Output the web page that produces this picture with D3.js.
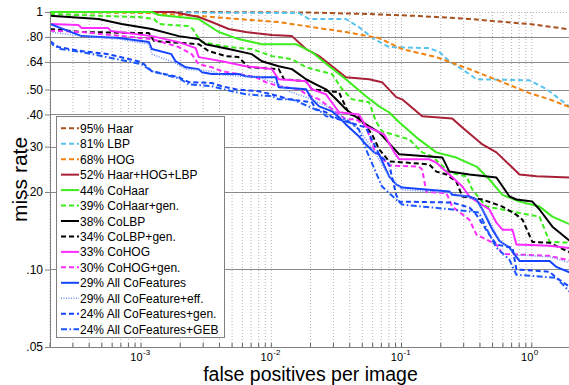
<!DOCTYPE html>
<html><head><meta charset="utf-8">
<script src="https://cdn.jsdelivr.net/npm/d3@7"></script>
<style>
body{margin:0;background:#fff;}
svg{display:block;font-family:Arial,"Liberation Sans",sans-serif;}
</style></head>
<body><svg id="c" width="569" height="385"></svg>
<script>
// ---------- data (false positives per image, miss rate) ----------
const seriesLabels = ["95% Haar","81% LBP","68% HOG","52% Haar+HOG+LBP","44% CoHaar","39% CoHaar+gen.","38% CoLBP","34% CoLBP+gen.","33% CoHOG","30% CoHOG+gen.","29% All CoFeatures","29% All CoFeature+eff.","24% All CoFeatures+gen.","24% All CoFeatures+GEB"];

const haar = [[2e-4,1],[3e-3,1],[0.02,0.995],[0.056,0.982],[0.136,0.965],[0.33,0.94],[0.565,0.918],[0.96,0.898],[2,0.855]];
const lbp = [[2e-4,1],[1.95e-3,0.995],[0.0163,0.991],[0.0195,0.939],[0.0374,0.939],[0.047,0.874],[0.0616,0.785],[0.080,0.731],[0.163,0.724],[0.195,0.699],[0.233,0.644],[0.332,0.574],[0.376,0.548],[0.96,0.543],[1.30,0.501],[2,0.425]];
const hog = [[2e-4,1],[1.15e-3,0.991],[2.77e-3,0.965],[5.6e-3,0.939],[0.0114,0.914],[0.0205,0.874],[0.0374,0.836],[0.0673,0.792],[0.101,0.718],[0.185,0.668],[0.332,0.6],[0.595,0.534],[0.96,0.484],[1.37,0.458],[2,0.425]];
const haarHogLbp = [[2e-4,1],[1.78e-3,1],[2.77e-3,0.956],[3.49e-3,0.914],[4.71e-3,0.859],[6.37e-3,0.836],[0.0101,0.814],[0.0144,0.806],[0.0185,0.718],[0.0233,0.674],[0.0293,0.616],[0.0374,0.558],[0.0563,0.548],[0.0708,0.534],[0.091,0.467],[0.101,0.458],[0.144,0.394],[0.245,0.386],[0.293,0.356],[0.418,0.306],[0.535,0.285],[0.804,0.234],[1.09,0.23],[2,0.2276]];
const coHaar = [[2e-4,1],[1.21e-3,1],[1.37e-3,0.973],[2.77e-3,0.939],[3.95e-3,0.836],[5.6e-3,0.785],[8.47e-3,0.75],[0.0155,0.75],[0.0205,0.699],[0.0278,0.616],[0.0374,0.548],[0.0533,0.471],[0.0673,0.43],[0.080,0.408],[0.096,0.373],[0.136,0.32],[0.185,0.285],[0.263,0.272],[0.376,0.251],[0.473,0.2236],[0.595,0.195],[0.804,0.1835],[1.146,0.1755],[1.44,0.1604],[2,0.149]];
const coHaarGen = [[2e-4,0.982],[4.73e-4,0.967],[9.6e-4,0.956],[1.26e-3,0.939],[1.37e-3,0.898],[2.3e-3,0.882],[2.5e-3,0.859],[2.63e-3,0.821],[2.93e-3,0.764],[4.71e-3,0.731],[7.08e-3,0.718],[0.0101,0.674],[0.0144,0.656],[0.0185,0.61],[0.0293,0.574],[0.035,0.501],[0.0418,0.458],[0.0563,0.446],[0.0637,0.376],[0.0708,0.344],[0.101,0.326],[0.1145,0.32],[0.144,0.285],[0.172,0.275],[0.233,0.238],[0.315,0.23],[0.35,0.204],[0.448,0.1755],[0.595,0.171],[0.96,0.163],[1.146,0.1604],[1.37,0.128],[2,0.127]];
const coLbp = [[2e-4,0.967],[4.73e-4,0.939],[7.1e-4,0.898],[1.21e-3,0.859],[1.95e-3,0.806],[2.77e-3,0.785],[3.13e-3,0.75],[4.71e-3,0.718],[7.08e-3,0.686],[8.47e-3,0.644],[0.0114,0.616],[0.0144,0.6],[0.0185,0.548],[0.022,0.524],[0.0263,0.501],[0.0315,0.458],[0.0374,0.419],[0.0533,0.366],[0.0673,0.341],[0.0847,0.3],[0.096,0.28],[0.206,0.272],[0.233,0.24],[0.332,0.234],[0.535,0.2276],[0.674,0.192],[0.762,0.187],[1.01,0.1835],[1.146,0.171],[1.44,0.1466],[2,0.128]];
const coLbpGen = [[2e-4,0.859],[3.5e-4,0.836],[1.15e-3,0.828],[1.26e-3,0.771],[2.77e-3,0.75],[3.31e-3,0.705],[4.47e-3,0.674],[5.6e-3,0.668],[6.71e-3,0.61],[0.0114,0.6],[0.0125,0.548],[0.0185,0.538],[0.0205,0.501],[0.0331,0.488],[0.035,0.458],[0.0397,0.401],[0.047,0.39],[0.0593,0.335],[0.0673,0.293],[0.0803,0.263],[0.163,0.256],[0.185,0.24],[0.221,0.234],[0.263,0.2196],[0.293,0.192],[0.418,0.187],[0.595,0.1755],[0.762,0.163],[0.849,0.156],[1.01,0.128],[1.37,0.127],[2,0.116]];
const coHog = [[2e-4,0.898],[3.3e-4,0.89],[3.5e-4,0.866],[5.6e-4,0.866],[5.9e-4,0.843],[1.21e-3,0.806],[1.95e-3,0.764],[2.63e-3,0.724],[2.77e-3,0.668],[4.17e-3,0.644],[6.37e-3,0.616],[0.0101,0.6],[0.0114,0.548],[0.0185,0.538],[0.0205,0.501],[0.0263,0.479],[0.0331,0.408],[0.047,0.4],[0.0533,0.36],[0.0734,0.335],[0.0879,0.285],[0.096,0.268],[0.163,0.268],[0.185,0.26],[0.233,0.234],[0.293,0.21],[0.332,0.192],[0.473,0.171],[0.535,0.152],[0.595,0.1427],[0.711,0.1427],[0.762,0.125],[1.37,0.1237],[2,0.121]];
const coHogGen = [[2e-4,0.846],[3.5e-4,0.836],[1.21e-3,0.785],[1.95e-3,0.731],[2.45e-3,0.686],[2.77e-3,0.627],[3.49e-3,0.61],[4.17e-3,0.589],[5.6e-3,0.574],[7.6e-3,0.558],[9.08e-3,0.534],[0.0114,0.515],[0.0163,0.501],[0.0185,0.479],[0.0233,0.458],[0.0315,0.408],[0.0374,0.383],[0.0447,0.383],[0.0533,0.36],[0.0616,0.293],[0.0803,0.2535],[0.136,0.251],[0.144,0.2446],[0.155,0.2],[0.221,0.198],[0.245,0.1755],[0.332,0.156],[0.376,0.1365],[0.535,0.125],[0.595,0.115],[1.37,0.113],[2,0.108]];
const allCo = [[2e-4,0.898],[3.5e-4,0.806],[6.75e-4,0.792],[1.15e-3,0.764],[1.21e-3,0.718],[1.71e-3,0.686],[1.84e-3,0.644],[2.2e-3,0.61],[2.77e-3,0.6],[2.93e-3,0.584],[3.49e-3,0.574],[5.6e-3,0.574],[6.37e-3,0.563],[8.04e-3,0.558],[0.01084,0.558],[0.0114,0.51],[0.0185,0.501],[0.0205,0.458],[0.0233,0.43],[0.0293,0.411],[0.0331,0.39],[0.0374,0.366],[0.047,0.329],[0.0533,0.306],[0.0616,0.285],[0.0673,0.28],[0.0803,0.23],[0.091,0.214],[0.101,0.208],[0.233,0.201],[0.245,0.195],[0.332,0.192],[0.376,0.187],[0.418,0.171],[0.499,0.1427],[0.565,0.129],[0.674,0.1215],[0.762,0.112],[0.804,0.108],[1.37,0.108],[1.54,0.1024],[2,0.097]];
const allCoEff = [[2e-4,0.836],[3.5e-4,0.806],[6.75e-4,0.785],[1.15e-3,0.75],[1.21e-3,0.686],[1.84e-3,0.633],[2.2e-3,0.6],[3.49e-3,0.589],[4.17e-3,0.569],[8.04e-3,0.558],[0.0114,0.524],[0.0136,0.492],[0.0205,0.458],[0.0278,0.426],[0.0374,0.383],[0.047,0.35],[0.0616,0.288],[0.0803,0.23],[0.101,0.204],[0.245,0.198],[0.376,0.187],[0.473,0.154],[0.565,0.1305],[0.762,0.114],[1.37,0.112],[2,0.106]];
const allCoGen = [[2e-4,0.771],[2.32e-4,0.731],[3.5e-4,0.705],[5.6e-4,0.686],[1.01e-3,0.639],[1.21e-3,0.589],[1.95e-3,0.558],[2.33e-3,0.534],[3.49e-3,0.53],[4.17e-3,0.515],[5.33e-3,0.501],[8.04e-3,0.492],[0.0114,0.471],[0.01365,0.458],[0.0205,0.446],[0.022,0.419],[0.0263,0.408],[0.0293,0.39],[0.0533,0.356],[0.0616,0.306],[0.0673,0.28],[0.0803,0.256],[0.091,0.195],[0.096,0.1835],[0.245,0.182],[0.332,0.174],[0.376,0.163],[0.473,0.1365],[0.535,0.125],[0.711,0.1215],[0.762,0.1],[1.37,0.098],[1.54,0.0929],[2,0.085]];
const allCoGeb = [[2e-4,0.771],[2.12e-4,0.744],[2.41e-4,0.718],[3.5e-4,0.699],[1.01e-3,0.627],[1.21e-3,0.589],[1.95e-3,0.553],[2.33e-3,0.524],[3.49e-3,0.515],[5.0e-3,0.492],[6.37e-3,0.479],[0.0101,0.471],[0.0114,0.458],[0.0144,0.458],[0.0163,0.446],[0.0245,0.408],[0.0263,0.394],[0.0374,0.383],[0.047,0.35],[0.0533,0.293],[0.0708,0.21],[0.091,0.187],[0.101,0.1787],[0.245,0.171],[0.394,0.1664],[0.473,0.1365],[0.535,0.1215],[0.674,0.109],[0.762,0.0954],[1.54,0.0929],[2,0.081]];

const seriesData = [haar,lbp,hog,haarHogLbp,coHaar,coHaarGen,coLbp,coLbpGen,coHog,coHogGen,allCo,allCoEff,allCoGen,allCoGeb];

const xTickValues = [1e-3,1e-2,1e-1,1];
const xTickExponents = ["-3","-2","-1","0"];
const yTickValues = [0.05,0.1,0.2,0.3,0.4,0.5,0.64,0.8,1];
const yTickLabels = [".05",".10",".20",".30",".40",".50",".64",".80","1"];

// ---------- styles ----------
const styles = [
  {c:"#a8501e",d:"5,3",w:2},
  {c:"#58c4ee",d:"5,3",w:2},
  {c:"#f0820f",d:"5,3",w:2},
  {c:"#a82036",d:null,w:2},
  {c:"#3cec1c",d:null,w:2},
  {c:"#3cec1c",d:"5,3",w:2},
  {c:"#000000",d:null,w:2},
  {c:"#000000",d:"5,3",w:2},
  {c:"#ff2cff",d:null,w:2},
  {c:"#ff2cff",d:"5,3",w:2},
  {c:"#1444ff",d:null,w:2},
  {c:"#6e8cff",d:"1,1.5",w:1.5},
  {c:"#1444ff",d:"5,3",w:2},
  {c:"#1c58ff",d:"6,2.5,1.5,2.5",w:2}
];

const L=50,R=571,T=12,B=347;
const svg=d3.select("#c");
const x=d3.scaleLog().domain([2e-4,2]).range([L,R]);
const y=d3.scaleLog().domain([0.05,1]).range([B,T]);

const minor=[];
for(let e=-4;e<=0;e++){for(let k=1;k<=9;k++){const v=k*Math.pow(10,e);if(v>=2e-4&&v<=2.0001)minor.push(v);}}

const g=svg.append("g");
g.selectAll("line.vg").data(minor).enter().append("line")
 .attr("x1",d=>x(d)).attr("x2",d=>x(d)).attr("y1",T).attr("y2",B)
 .attr("stroke","#b4b4b4").attr("stroke-width",1).attr("stroke-dasharray","1,2");
g.append("line").attr("x1",L).attr("x2",R).attr("y1",T+0.5).attr("y2",T+0.5)
 .attr("stroke","#b4b4b4").attr("stroke-dasharray","1,2");
g.selectAll("line.hg").data(yTickValues.filter(v=>v>0.05&&v<1)).enter().append("line")
 .attr("x1",L).attr("x2",R).attr("y1",d=>Math.round(y(d))+0.5).attr("y2",d=>Math.round(y(d))+0.5)
 .attr("stroke","#8a8a8a").attr("stroke-width",1);
g.selectAll("line.mt").data(minor).enter().append("line")
 .attr("x1",d=>x(d)).attr("x2",d=>x(d)).attr("y1",B).attr("y2",B-4)
 .attr("stroke","#666");

svg.append("clipPath").attr("id","clip").append("rect").attr("x",L).attr("y",T-2).attr("width",R-L).attr("height",B-T+2);
const line=d3.line().x(d=>x(d[0])).y(d=>y(d[1]));
const pg=svg.append("g").attr("clip-path","url(#clip)");
seriesData.forEach((s,i)=>{
  pg.append("path").attr("d",line(s)).attr("fill","none")
    .attr("stroke",styles[i].c).attr("stroke-width",styles[i].w)
    .attr("stroke-dasharray",styles[i].d).attr("stroke-linejoin","round");
});

const yAxis=d3.axisLeft(y).tickValues(yTickValues).tickFormat((d,i)=>yTickLabels[i]).tickSize(5).tickPadding(2);
const ya=svg.append("g").attr("transform",`translate(${L},0)`).call(yAxis);
ya.select(".domain").attr("stroke","#808080");
ya.selectAll(".tick line").attr("stroke","#808080");
ya.selectAll("text").attr("font-size","12px").attr("fill","#000").attr("font-family","Arial,'Liberation Sans',sans-serif");

const xAxis=d3.axisBottom(x).tickValues(xTickValues).tickFormat("").tickSize(0);
const xa=svg.append("g").attr("transform",`translate(0,${B})`).call(xAxis);
xa.select(".domain").attr("stroke","#808080");
xa.selectAll(".tick").each(function(d,i){
  const t=d3.select(this);
  t.append("text").attr("x",1).attr("y",13.5).attr("fill","#000")
    .attr("font-size","11px").attr("text-anchor","end").attr("font-family","Arial,'Liberation Sans',sans-serif").text("10");
  t.append("text").attr("x",1.5).attr("y",8).attr("fill","#000")
    .attr("font-size","8px").attr("text-anchor","start").attr("font-family","Arial,'Liberation Sans',sans-serif").text(xTickExponents[i]);
});

svg.append("text").attr("x",(L+R)/2).attr("y",381).attr("text-anchor","middle")
  .attr("font-size","19.5px").text("false positives per image");
svg.append("text").attr("transform",`translate(27,${(T+B)/2}) rotate(-90)`).attr("text-anchor","middle")
  .attr("font-size","21px").text("miss rate");

const lg=svg.append("g");
lg.append("rect").attr("x",56.5).attr("y",116.5).attr("width",168).attr("height",221)
  .attr("fill","#fff").attr("stroke","#808080");
seriesLabels.forEach((lab,i)=>{
  const yy=128.3+i*15.45;
  lg.append("line").attr("x1",61).attr("x2",79).attr("y1",yy).attr("y2",yy)
    .attr("stroke",styles[i].c).attr("stroke-width",styles[i].w).attr("stroke-dasharray",styles[i].d);
  lg.append("text").attr("x",80).attr("y",yy+4.5).attr("font-size","12px").text(lab);
});
</script></body></html>
